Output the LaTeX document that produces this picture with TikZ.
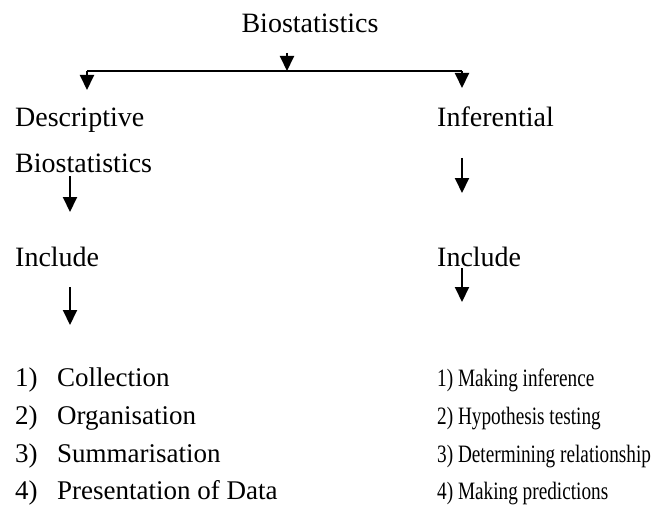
\documentclass[tikz,border=0pt]{standalone}
\usepackage{fontspec}
\setmainfont{Liberation Serif}
\newfontfamily\narrowserif[FakeStretch=0.77]{Liberation Serif}
\usetikzlibrary{arrows.meta}
\tikzset{
  lbl/.style={anchor=base west, inner sep=0pt, font=\fontsize{28}{32}\selectfont},
  dlbl/.style={lbl, font=\fontsize{27}{32}\selectfont},
  nlbl/.style={lbl, font=\fontsize{25}{30}\narrowserif},
  arr/.style={-{Triangle[length=15pt,width=14pt]}, line width=2pt},
}
\newcommand{\itemno}[1]{\makebox[42pt][l]{#1}}

\begin{document}
\begin{tikzpicture}[x=1pt, y=-1pt]
  \useasboundingbox (0,0) rectangle (663,505);
  % top
  \node[lbl, anchor=base] (bio) at (310,33) {Biostatistics};
  \coordinate (barL) at (87,71);
  \coordinate (barM) at (287,71);
  \coordinate (barR) at (462,71);
  \coordinate (topM) at (287,53);
  \draw[line width=2pt] (barL) -- (barR);
  \draw[arr] (topM) -- (barM);
  \coordinate (endL) at (87,90);
  \coordinate (endR) at (462,88);
  \draw[arr] (barL) -- (endL);
  \draw[arr] (barR) -- (endR);
  % left branch
  \node[lbl] (desc) at (15,127) {Descriptive};
  \node[lbl] (descb) at (15,172) {Biostatistics};
  \node[lbl] (incL) at (15,266) {Include};
  \coordinate (aL1) at (70,176);
  \coordinate (bL1) at (70,212);
  \coordinate (aL2) at (70,287);
  \coordinate (bL2) at (70,325);
  \draw[arr] (aL1) -- (bL1);
  \draw[arr] (aL2) -- (bL2);
  % right branch
  \node[lbl] (inf) at (437,127) {Inferential};
  \node[lbl] (incR) at (437,266) {Include};
  \coordinate (aR1) at (462,158);
  \coordinate (bR1) at (462,193);
  \coordinate (aR2) at (462,268);
  \coordinate (bR2) at (462,302);
  \draw[arr] (aR1) -- (bR1);
  \draw[arr] (aR2) -- (bR2);
  % lists
  \node[dlbl] (dl1) at (15,386) {\itemno{1)}Collection};
  \node[dlbl] (dl2) at (15,424) {\itemno{2)}Organisation};
  \node[dlbl] (dl3) at (15,462) {\itemno{3)}Summarisation};
  \node[dlbl] (dl4) at (15,499) {\itemno{4)}Presentation of Data};
  \node[nlbl] (il1) at (437,386) {1) Making inference};
  \node[nlbl] (il2) at (437,424) {2) Hypothesis testing};
  \node[nlbl] (il3) at (437,462) {3) Determining relationship};
  \node[nlbl] (il4) at (437,499) {4) Making predictions};
\end{tikzpicture}
\end{document}
